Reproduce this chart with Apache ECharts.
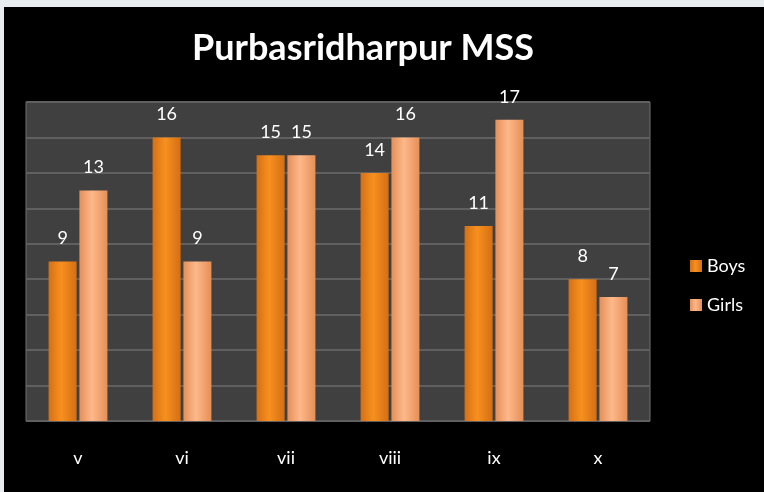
<!DOCTYPE html>
<html>
<head>
<meta charset="utf-8">
<script src="https://cdn.jsdelivr.net/npm/echarts@6/dist/echarts.min.js"></script>
<style>
    html, body { margin:0; padding:0; background:#e9edf0; width:764px; height:492px; overflow:hidden; }
    #chart { position:absolute; left:4px; top:7px; width:760px; height:485px; background:#000; }
</style>
</head>
<body>
<div id="chart"></div>
<script>
    // 数据
    var classes = ['v', 'vi', 'vii', 'viii', 'ix', 'x'];
    var boys = [9, 16, 15, 14, 11, 8];
    var girls = [13, 9, 15, 16, 17, 7];

    function barColor(edge, mid){
        return {
            type: 'linear', x: 0, y: 0, x2: 1, y2: 0,
            colorStops: [
                {offset: 0, color: edge},
                {offset: 0.45, color: mid},
                {offset: 1, color: edge}
            ]
        };
    }

    var myChart = echarts.init(document.getElementById('chart'));
    var option = {
        backgroundColor: '#000',
        textStyle: { fontFamily: 'Lato' },
        title: {
            text: 'Purbasridharpur MSS',
            left: 183,
            top: 18,
            textStyle: { color: '#fff', fontSize: 36, fontWeight: 'bold', fontFamily: 'Lato' }
        },
        legend: {
            orient: 'vertical',
            left: 681,
            top: 245,
            itemWidth: 12,
            itemHeight: 12,
            itemGap: 21,
            icon: 'rect',
            textStyle: { color: '#fff', fontSize: 18 },
            data: ['Boys', 'Girls']
        },
        grid: {
            left: 22,
            right: 114,
            top: 95,
            bottom: 71,
            show: true,
            backgroundColor: '#404040',
            borderColor: '#707070',
            borderWidth: 1
        },
        xAxis: {
            type: 'category',
            data: classes,
            axisLine: { show: false },
            axisTick: { show: false },
            axisLabel: { color: '#fff', fontSize: 18, margin: 28 }
        },
        yAxis: {
            type: 'value',
            min: 0,
            max: 18,
            interval: 2,
            axisLabel: { show: false },
            axisLine: { show: false },
            axisTick: { show: false },
            splitLine: { lineStyle: { color: '#606060', width: 2 } }
        },
        series: [
            {
                name: 'Boys',
                type: 'bar',
                data: boys,
                barWidth: 28,
                barGap: '10%',
                itemStyle: { color: barColor('#d46f14', '#f8901f') },
                label: { show: true, position: 'top', color: '#fff', fontSize: 18, distance: 14 }
            },
            {
                name: 'Girls',
                type: 'bar',
                data: girls,
                barWidth: 28,
                itemStyle: { color: barColor('#e58f57', '#fdb88a') },
                label: { show: true, position: 'top', color: '#fff', fontSize: 18, distance: 14 }
            }
        ]
    };
    myChart.setOption(option);
</script>
</body>
</html>
